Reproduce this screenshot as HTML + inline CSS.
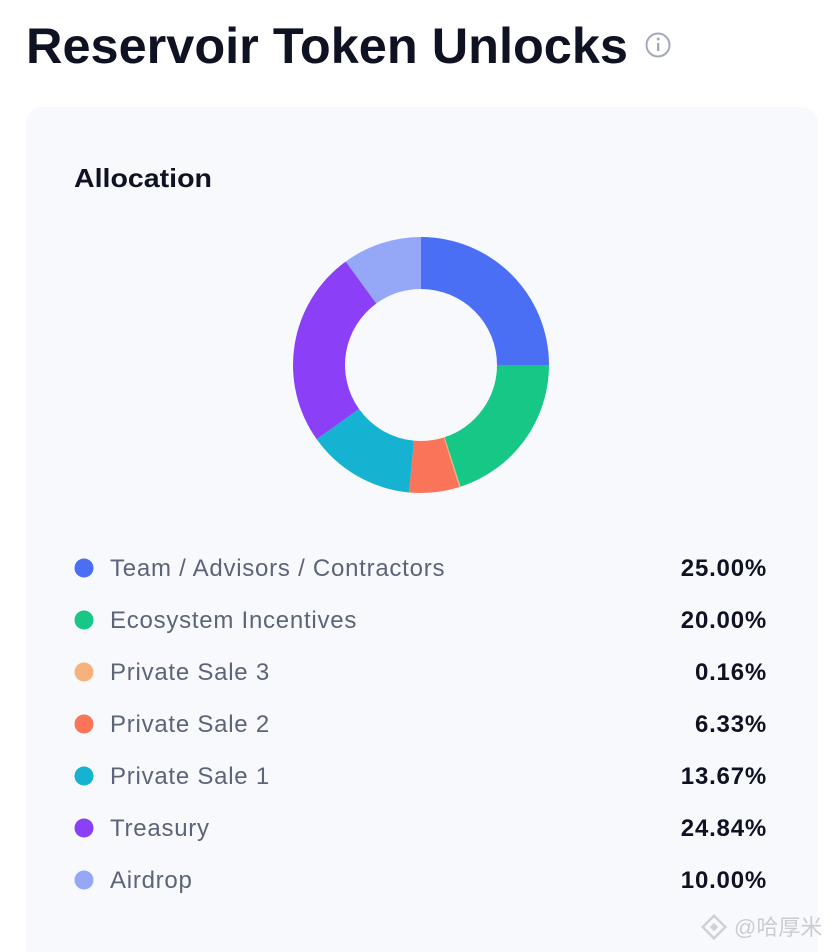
<!DOCTYPE html>
<html><head><meta charset="utf-8"><style>
body{margin:0;background:#fff;font-family:"Liberation Sans",sans-serif;}
svg{display:block}
</style></head><body>
<svg id="chart" width="838" height="952" viewBox="0 0 838 952">
  <text x="26" y="63" font-size="50" font-weight="bold" fill="#0f1222" textLength="602" lengthAdjust="spacingAndGlyphs">Reservoir Token Unlocks</text>
  <g>
    <circle cx="658" cy="45" r="11.5" fill="none" stroke="#a3a9b8" stroke-width="2"/>
    <rect x="657" y="43" width="2.4" height="8" fill="#a3a9b8"/>
    <circle cx="658.2" cy="39" r="1.5" fill="#a3a9b8"/>
  </g>
  <rect x="26" y="107" width="792" height="880" rx="16" fill="#f8f9fd"/>
  <text x="74" y="187" font-size="26" font-weight="bold" fill="#0f1222" textLength="138" lengthAdjust="spacingAndGlyphs">Allocation</text>
  <g id="donut"></g>
  <g id="legend"></g>
  <g opacity="0.8">
    <g transform="translate(714,927) rotate(45)"><rect x="-8" y="-8" width="16" height="16" fill="none" stroke="#c5c8d0" stroke-width="2.5"/><rect x="-3" y="-3" width="6" height="6" fill="#c5c8d0"/></g>
    <text x="734" y="935" font-size="22" fill="#bfc2ca" font-family="Liberation Sans, Noto Sans CJK SC, sans-serif">@哈厚米</text>
  </g>
</svg>
<script>
const labels = ["Team / Advisors / Contractors","Ecosystem Incentives","Private Sale 3","Private Sale 2","Private Sale 1","Treasury","Airdrop"];
const values = [25.00, 20.00, 0.16, 6.33, 13.67, 24.84, 10.00];
const valueLabels = ["25.00%","20.00%","0.16%","6.33%","13.67%","24.84%","10.00%"];
const colors = ["#4a6ff5","#17c785","#f5b27a","#fa7459","#16b2d1","#8b3ff7","#94a8f7"];

const NS = "http://www.w3.org/2000/svg";
const cx = 421, cy = 365, R = 128, r = 76;
const total = values.reduce((a,b)=>a+b,0);
function angle(v){ return v/total*2*Math.PI; }
function pt(a, rad){ return [cx + rad*Math.sin(a), cy - rad*Math.cos(a)]; }
const donut = document.getElementById('donut');
let a0 = 0;
values.forEach((v,i)=>{
  const a1 = a0 + angle(v);
  const large = (a1-a0) > Math.PI ? 1 : 0;
  const [x0,y0]=pt(a0,R),[x1,y1]=pt(a1,R),[x2,y2]=pt(a1,r),[x3,y3]=pt(a0,r);
  const p = document.createElementNS(NS,'path');
  p.setAttribute('d',`M${x0},${y0} A${R},${R} 0 ${large} 1 ${x1},${y1} L${x2},${y2} A${r},${r} 0 ${large} 0 ${x3},${y3} Z`);
  p.setAttribute('fill',colors[i]);
  
  
  donut.appendChild(p);
  a0 = a1;
});
const legend = document.getElementById('legend');
labels.forEach((l,i)=>{
  const y = 568 + i*52;
  const g = document.createElementNS(NS,'g');
  
  
  const c = document.createElementNS(NS,'circle');
  c.setAttribute('cx',84); c.setAttribute('cy',y); c.setAttribute('r',9.5); c.setAttribute('fill',colors[i]);
  
  
  const t = document.createElementNS(NS,'text');
  t.setAttribute('x',110); t.setAttribute('y',y+8); t.setAttribute('font-size',24); t.setAttribute('fill','#5c6479');
  t.setAttribute('letter-spacing','0.75');
  t.textContent = l;
  
  
  const vt = document.createElementNS(NS,'text');
  vt.setAttribute('x',767); vt.setAttribute('y',y+8); vt.setAttribute('font-size',24); vt.setAttribute('font-weight','bold');
  vt.setAttribute('fill','#0f1222'); vt.setAttribute('text-anchor','end');
  vt.setAttribute('letter-spacing','0.8');
  vt.textContent = valueLabels[i];
  
  
  g.appendChild(c); g.appendChild(t); g.appendChild(vt);
  legend.appendChild(g);
});
</script>
</body></html>
